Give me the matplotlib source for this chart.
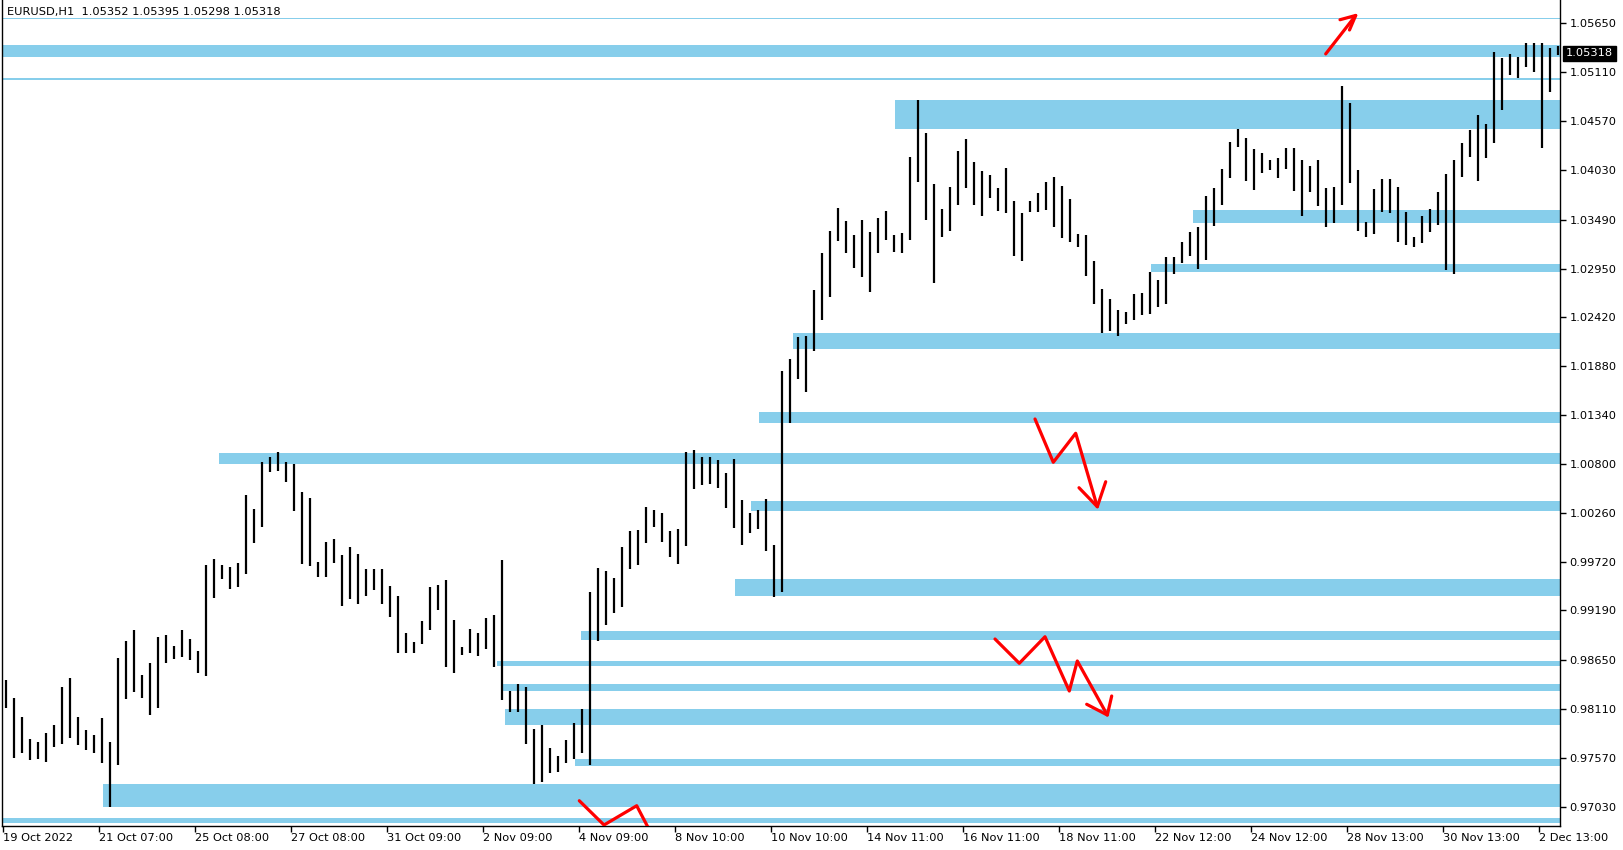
import matplotlib.pyplot as plt

# EURUSD H1 chart with support / resistance zones, bars grouped 4 hours each
# (index of a group in hourly bars = 4 * position)
group_size = 4

highs = [0.98425, 0.98223, 0.98014, 0.97772, 0.97739, 0.97845, 0.97930, 0.98351, 0.98443, 0.98014,
         0.97875, 0.97820, 0.98003, 0.97746, 0.98663, 0.98854, 0.98975, 0.98480, 0.98608, 0.98894,
         0.98920, 0.98799, 0.98975, 0.98876, 0.98747, 0.99690, 0.99756, 0.99690, 0.99672, 0.99708,
         1.00460, 1.00306, 1.00819, 1.00874, 1.00929, 1.00827, 1.00801, 1.00489, 1.00423, 0.99727,
         0.99947, 0.99972, 0.99800, 0.99884, 0.99811, 0.99642, 0.99646, 0.99646, 0.99463, 0.99353,
         0.98938, 0.98847, 0.99074, 0.99452, 0.99470, 0.99525, 0.99085, 0.98791, 0.98982, 0.98945,
         0.99103, 0.99140, 0.99745, 0.98307, 0.98381, 0.98351, 0.97886, 0.97930, 0.97673, 0.97589,
         0.97765, 0.97948, 0.98106, 0.99397, 0.99661, 0.99624, 0.99543, 0.99892, 1.00064, 1.00075,
         1.00324, 1.00295, 1.00266, 1.00064, 1.00082, 1.00929, 1.00955, 1.00874, 1.00874, 1.00845,
         1.00698, 1.00856, 1.00405, 1.00266, 1.00295, 1.00412, 0.99910, 1.01827, 1.01952, 1.02201,
         1.02209, 1.02715, 1.03125, 1.03367, 1.03613, 1.03474, 1.03320, 1.03485, 1.03356, 1.03503,
         1.03584, 1.03320, 1.03338, 1.04182, 1.04805, 1.04438, 1.03881, 1.03606, 1.03852, 1.04244,
         1.04372, 1.04119, 1.04028, 1.03980, 1.03833, 1.04053, 1.03694, 1.03566, 1.03694, 1.03778,
         1.03899, 1.03962, 1.03859, 1.03716, 1.03331, 1.03320, 1.03038, 1.02726, 1.02612, 1.02495,
         1.02476, 1.02671, 1.02678, 1.02909, 1.02825, 1.03082, 1.03074, 1.03247, 1.03357, 1.03404,
         1.03749, 1.03841, 1.04042, 1.04347, 1.04482, 1.04383, 1.04262, 1.04226, 1.04145, 1.04163,
         1.04281, 1.04273, 1.04145, 1.04079, 1.04145, 1.03833, 1.03852, 1.04959, 1.04768, 1.04035,
         1.03467, 1.03822, 1.03932, 1.03932, 1.03852, 1.03576, 1.03301, 1.03529, 1.03602, 1.03796,
         1.03991, 1.04145, 1.04328, 1.04475, 1.04636, 1.04541, 1.05337, 1.05263, 1.05311, 1.05274,
         1.05428, 1.05428, 1.05428, 1.05373, 1.05395]

lows = [0.98113, 0.97570, 0.97625, 0.97545, 0.97556, 0.97526, 0.97691, 0.97717, 0.97783, 0.97710,
        0.97655, 0.97618, 0.97508, 0.97031, 0.97490, 0.98219, 0.98296, 0.98230, 0.98040, 0.98113,
        0.98615, 0.98656, 0.98681, 0.98645, 0.98505, 0.98472, 0.99330, 0.99532, 0.99422, 0.99452,
        0.99587, 0.99936, 1.00112, 1.00709, 1.00728, 1.00607, 1.00288, 0.99701, 0.99679, 0.99562,
        0.99562, 0.99716, 0.99243, 0.99316, 0.99261, 0.99353, 0.99415, 0.99261, 0.99121, 0.98718,
        0.98718, 0.98718, 0.98821, 0.98975, 0.99195, 0.98571, 0.98505, 0.98700, 0.98725, 0.98692,
        0.98766, 0.98571, 0.98205, 0.98076, 0.98076, 0.97717, 0.97281, 0.97306, 0.97405, 0.97416,
        0.97515, 0.97556, 0.97618, 0.97490, 0.98857, 0.99030, 0.99158, 0.99224, 0.99642, 0.99690,
        0.99928, 1.00104, 0.99947, 0.99774, 0.99701, 0.99903, 1.00526, 1.00570, 1.00581, 1.00541,
        1.00321, 1.00093, 0.99910, 1.00038, 1.00082, 0.99848, 0.99342, 0.99396, 1.01255, 1.01732,
        1.01596, 1.02047, 1.02385, 1.02634, 1.03257, 1.03118, 1.02953, 1.02861, 1.02696, 1.03118,
        1.03265, 1.03136, 1.03125, 1.03265, 1.03907, 1.03485, 1.02788, 1.03294, 1.03367, 1.03650,
        1.03833, 1.03650, 1.03533, 1.03731, 1.03588, 1.03558, 1.03089, 1.03038, 1.03569, 1.03577,
        1.03595, 1.03412, 1.03291, 1.03247, 1.03192, 1.02873, 1.02561, 1.02245, 1.02267, 1.02212,
        1.02337, 1.02385, 1.02440, 1.02447, 1.02524, 1.02561, 1.02891, 1.03016, 1.03089, 1.02946,
        1.03045, 1.03419, 1.03650, 1.03943, 1.04292, 1.03918, 1.03815, 1.04006, 1.04035, 1.03951,
        1.04042, 1.03808, 1.03533, 1.03797, 1.03639, 1.03404, 1.03456, 1.03650, 1.03896, 1.03368,
        1.03294, 1.03331, 1.03576, 1.03558, 1.03247, 1.03210, 1.03191, 1.03228, 1.03356, 1.03430,
        1.02935, 1.02891, 1.03962, 1.04174, 1.03918, 1.04163, 1.04336, 1.04695, 1.05080, 1.05043,
        1.05164, 1.05117, 1.04273, 1.04897, 1.05298]

# zones: first hourly bar where the zone starts (None = whole width), top and bottom price
zone_start = [None, None, None, 445.75, 594.9, 573.75, 394.6, 377.75, 107.75, 373.75,
              365.75, 288.75, 246.9, 248.75, 250.75, 285.75, 49.75, None]
zone_top = [1.05705, 1.05410, 1.05043, 1.04805, 1.03595, 1.02997, 1.02245, 1.01373, 1.00926, 1.00393,
            0.99536, 0.98964, 0.98634, 0.98381, 0.98106, 0.97556, 0.97281, 0.96907]
zone_bottom = [1.05693, 1.05282, 1.05025, 1.04482, 1.03455, 1.02913, 1.02062, 1.01255, 1.00801, 1.00287,
               0.99353, 0.98865, 0.98579, 0.98307, 0.97930, 0.97479, 0.97031, 0.96852]

price_ticks = [1.05650, 1.05110, 1.04570, 1.04030, 1.03490, 1.02950, 1.02420, 1.01880, 1.01340,
               1.00800, 1.00260, 0.99720, 0.99190, 0.98650, 0.98110, 0.97570, 0.97030]
time_labels = ['19 Oct 2022', '21 Oct 07:00', '25 Oct 08:00', '27 Oct 08:00', '31 Oct 09:00',
               '2 Nov 09:00', '4 Nov 09:00', '8 Nov 10:00', '10 Nov 10:00', '14 Nov 11:00',
               '16 Nov 11:00', '18 Nov 11:00', '22 Nov 12:00', '24 Nov 12:00', '28 Nov 13:00',
               '30 Nov 13:00', '2 Dec 13:00']
bars_per_label = 48
last_price = 1.05318

# hand drawn red arrows (hourly bar index, price)
arrow_paths = [
    ([661.1, 676.1], [1.05312, 1.05735]),
    ([668.25, 676.1, 673.0], [1.05688, 1.05735, 1.05575]),
    ([515.75, 524.9, 536.1, 546.9], [1.01296, 1.00820, 1.01139, 1.00331]),
    ([537.75, 546.9, 551.1], [1.00540, 1.00331, 1.00606]),
    ([495.75, 507.9, 520.75, 532.9, 536.9, 551.9], [0.98876, 0.98609, 0.98901, 0.98304, 0.98634, 0.98040]),
    ([541.6, 551.9, 554.1], [0.98158, 0.98040, 0.98249]),
    ([287.9, 300.25, 316.6, 324.25], [0.97097, 0.96830, 0.97042, 0.96720]),
]

font = 'DejaVu Sans'
fsize = 8.2
W, H = 1624, 850
x_left, x_right, y_bottom = -0.5, 778.25, 0.96819

fig = plt.figure(figsize=(W / 100, H / 100), dpi=100)
fig.patch.set_facecolor('white')
ax = fig.add_axes([2.5 / W, 24 / H, (1560 - 2.5) / W, 826 / H])
ax.set_xlim(x_left, x_right)
ax.set_ylim(y_bottom, 1.05905)

# zones
for s, t, b in zip(zone_start, zone_top, zone_bottom):
    x0 = x_left if s is None else s
    ax.fill_between([x0, x_right], b, t, color='#87CEEB', linewidth=0, zorder=1)

# price bars
xs = [i * group_size + 1.5 for i in range(len(highs))]
ax.vlines(xs, lows, highs, colors='black', linewidth=1.6, zorder=3)

# red arrows
for px, py in arrow_paths:
    ax.plot(px, py, color='#ff0000', linewidth=2.3, solid_capstyle='round',
            solid_joinstyle='round', zorder=4)

# axes and ticks
for side in ['left', 'right', 'bottom']:
    ax.spines[side].set_color('black')
    ax.spines[side].set_linewidth(1)
ax.spines['top'].set_visible(False)

ax.yaxis.tick_right()
ax.set_yticks(price_ticks)
ax.set_yticklabels([f'{p:.5f}' for p in price_ticks], fontsize=fsize, family=font)
ax.set_xticks([k * bars_per_label for k in range(len(time_labels))])
ax.set_xticklabels(time_labels, fontsize=fsize, family=font, ha='left')
ax.tick_params(axis='y', direction='out', length=4, width=1, pad=3)
ax.tick_params(axis='x', direction='out', length=4, width=1, pad=1)

# header and current price box
ax.text(0.0029, 0.9855, 'EURUSD,H1  1.05352 1.05395 1.05298 1.05318', transform=ax.transAxes,
        fontsize=fsize, family=font, va='center', ha='left')
ax.annotate(f'{last_price:.5f}', xy=(1.0, last_price), xycoords=('axes fraction', 'data'),
            xytext=(6, 0), textcoords='offset pixels', va='center', ha='left',
            fontsize=fsize, family=font, color='white',
            bbox=dict(boxstyle='square,pad=0.25', facecolor='black', edgecolor='black'))

fig.savefig('out.png', dpi=100)
